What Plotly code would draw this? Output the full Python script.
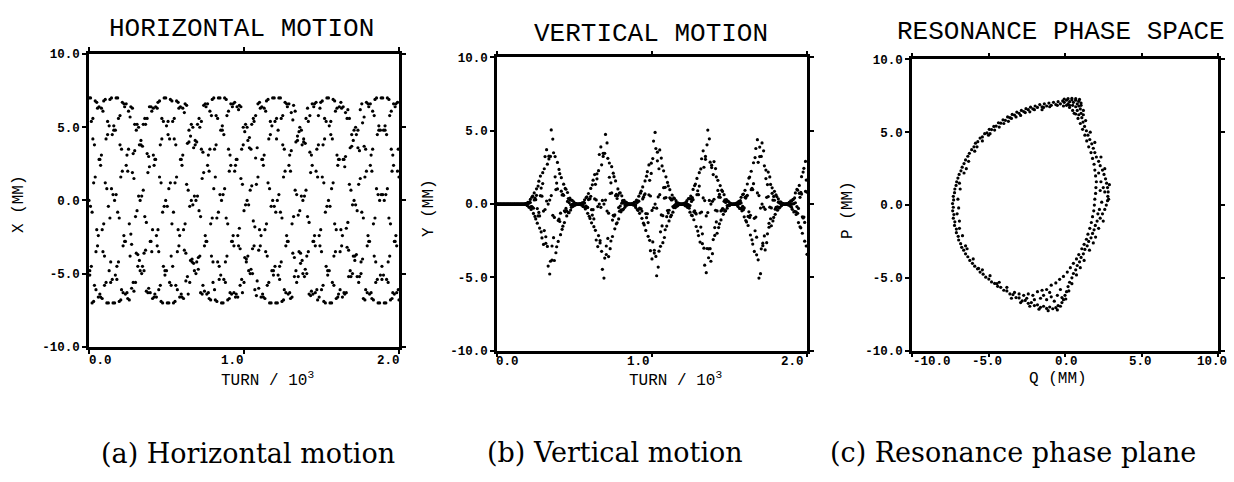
import plotly.graph_objects as go

# ---------------- data ----------------
# sampled turn numbers (shared by panels a and b)
TURN = [
    0, 5, 10, 15, 20, 25, 30, 35, 40, 45, 50, 55, 60, 65, 70, 75, 80, 85, 90, 95,
    100, 105, 110, 115, 120, 125, 130, 135, 140, 145, 150, 155, 160, 165, 170, 175, 180, 185, 190, 195,
    200, 205, 210, 215, 220, 225, 230, 235, 240, 245, 250, 255, 260, 265, 270, 275, 280, 285, 290, 295,
    300, 305, 310, 315, 320, 325, 330, 335, 340, 345, 350, 355, 360, 365, 370, 375, 380, 385, 390, 395,
    400, 405, 410, 415, 420, 425, 430, 435, 440, 445, 450, 455, 460, 465, 470, 475, 480, 485, 490, 495,
    500, 505, 510, 515, 520, 525, 530, 535, 540, 545, 550, 555, 560, 565, 570, 575, 580, 585, 590, 595,
    600, 605, 610, 615, 620, 625, 630, 635, 640, 645, 650, 655, 660, 665, 670, 675, 680, 685, 690, 695,
    700, 705, 710, 715, 720, 725, 730, 735, 740, 745, 750, 755, 760, 765, 770, 775, 780, 785, 790, 795,
    800, 805, 810, 815, 820, 825, 830, 835, 840, 845, 850, 855, 860, 865, 870, 875, 880, 885, 890, 895,
    900, 905, 910, 915, 920, 925, 930, 935, 940, 945, 950, 955, 960, 965, 970, 975, 980, 985, 990, 995,
    1000, 1005, 1010, 1015, 1020, 1025, 1030, 1035, 1040, 1045, 1050, 1055, 1060, 1065, 1070, 1075, 1080, 1085, 1090, 1095,
    1100, 1105, 1110, 1115, 1120, 1125, 1130, 1135, 1140, 1145, 1150, 1155, 1160, 1165, 1170, 1175, 1180, 1185, 1190, 1195,
    1200, 1205, 1210, 1215, 1220, 1225, 1230, 1235, 1240, 1245, 1250, 1255, 1260, 1265, 1270, 1275, 1280, 1285, 1290, 1295,
    1300, 1305, 1310, 1315, 1320, 1325, 1330, 1335, 1340, 1345, 1350, 1355, 1360, 1365, 1370, 1375, 1380, 1385, 1390, 1395,
    1400, 1405, 1410, 1415, 1420, 1425, 1430, 1435, 1440, 1445, 1450, 1455, 1460, 1465, 1470, 1475, 1480, 1485, 1490, 1495,
    1500, 1505, 1510, 1515, 1520, 1525, 1530, 1535, 1540, 1545, 1550, 1555, 1560, 1565, 1570, 1575, 1580, 1585, 1590, 1595,
    1600, 1605, 1610, 1615, 1620, 1625, 1630, 1635, 1640, 1645, 1650, 1655, 1660, 1665, 1670, 1675, 1680, 1685, 1690, 1695,
    1700, 1705, 1710, 1715, 1720, 1725, 1730, 1735, 1740, 1745, 1750, 1755, 1760, 1765, 1770, 1775, 1780, 1785, 1790, 1795,
    1800, 1805, 1810, 1815, 1820, 1825, 1830, 1835, 1840, 1845, 1850, 1855, 1860, 1865, 1870, 1875, 1880, 1885, 1890, 1895,
    1900, 1905, 1910, 1915, 1920, 1925, 1930, 1935, 1940, 1945, 1950, 1955, 1960, 1965, 1970, 1975, 1980, 1985, 1990, 1995,
    2000,
]

# horizontal position X (mm), two interleaved phase samples per plotted turn
X_MM = [
    7.0, -4.8, -0.4, 5.4, -7.0, 4.2, 1.2, -5.8, 6.8, -3.5, -2.0, 6.3, -6.6, 2.8, 2.8, -6.6, 6.3, -2.0, -3.5, 6.8, -5.8, 1.2, 4.2, -7.0, 5.4, -0.4, -4.8,
    6.9, -5.6, 0.8, 4.5, -7.0, 5.1, 0.0, -5.1, 7.0, -4.5, -0.8, 5.6, -6.9, 3.8, 1.6, -6.1, 6.7, -3.1, -2.4, 6.4, -6.4, 2.4, 3.1, -6.7, 6.1, -1.6, -3.8,
    6.4, -6.0, 1.9, 3.2, -6.2, 5.2, -1.1, -3.6, 5.2, -4.5, 0.3, 3.8, -4.8, 3.8, 0.3, -4.5, 5.2, -3.6, -1.1, 5.2, -6.2, 3.2, 1.9, -6.0, 6.4, -2.8, -2.8,
    6.1, -6.7, 3.1, 2.4, -6.4, 6.4, -2.4, -3.1, 6.7, -6.1, 1.6, 3.8, -6.9, 5.6, -0.8, -4.5, 7.0, -5.1, 0.0, 5.1, -7.0, 4.5, 0.8, -5.6, 6.9, -3.8, -1.6,
    5.4, -7.0, 4.2, 1.2, -5.8, 6.8, -3.5, -2.0, 6.3, -6.6, 2.8, 2.8, -6.6, 6.3, -2.0, -3.4, 6.6, -5.5, 1.1, 3.9, -6.4, 4.8, -0.4, -4.1, 5.2, -4.0, -0.3,
    3.6, -4.8, 4.1, 0.0, -4.2, 5.2, -3.9, -0.7, 5.0, -6.3, 3.5, 1.5, -5.8, 6.5, -3.1, -2.4, 6.4, -6.4, 2.4, 3.1, -6.7, 6.1, -1.6, -3.8, 6.9, -5.6, 0.8,
    3.5, -6.8, 5.8, -1.2, -4.2, 7.0, -5.4, 0.4, 4.8, -7.0, 4.8, 0.4, -5.4, 7.0, -4.2, -1.2, 5.8, -6.8, 3.5, 2.0, -6.3, 6.6, -2.8, -2.8, 6.6, -6.3, 2.0,
    2.4, -6.4, 6.4, -2.4, -3.1, 6.5, -5.8, 1.5, 3.5, -6.3, 5.0, -0.7, -3.9, 5.2, -4.2, 0.0, 4.1, -4.8, 3.6, 0.7, -4.7, 5.2, -3.3, -1.4, 5.4, -6.1, 2.9,
    1.1, -5.5, 6.6, -3.4, -2.0, 6.3, -6.6, 2.8, 2.8, -6.6, 6.3, -2.0, -3.5, 6.8, -5.8, 1.2, 4.2, -7.0, 5.4, -0.4, -4.8, 7.0, -4.8, -0.4, 5.4, -7.0, 4.2,
    0.0, -5.1, 7.0, -4.5, -0.8, 5.6, -6.9, 3.8, 1.6, -6.1, 6.7, -3.1, -2.4, 6.4, -6.4, 2.4, 3.1, -6.7, 6.0, -1.6, -3.6, 6.5, -5.2, 0.7, 4.0, -5.6, 4.4,
    -1.0, -3.5, 5.0, -4.3, 0.3, 3.8, -5.0, 4.0, 0.3, -4.7, 5.6, -3.8, -1.1, 5.4, -6.4, 3.3, 1.9, -6.2, 6.6, -2.8, -2.8, 6.6, -6.3, 2.0, 3.5, -6.8, 5.8,
    -2.4, -3.1, 6.7, -6.1, 1.6, 3.8, -6.9, 5.6, -0.8, -4.5, 7.0, -5.1, 0.0, 5.1, -7.0, 4.5, 0.8, -5.6, 6.9, -3.8, -1.6, 6.1, -6.7, 3.1, 2.4, -6.4, 6.4,
    -3.5, -2.0, 6.3, -6.6, 2.8, 2.8, -6.4, 6.0, -1.9, -3.2, 6.2, -5.2, 1.1, 3.6, -5.2, 4.5, -0.3, -3.8, 4.8, -3.8, -0.3, 4.5, -5.2, 3.6, 1.1, -5.2, 6.2,
    -4.2, -0.8, 5.3, -6.7, 3.7, 1.6, -6.1, 6.7, -3.1, -2.4, 6.4, -6.4, 2.4, 3.1, -6.7, 6.1, -1.6, -3.8, 6.9, -5.6, 0.8, 4.5, -7.0, 5.1, 0.0, -5.1, 7.0,
    -5.4, 0.4, 4.8, -7.0, 4.8, 0.4, -5.4, 7.0, -4.2, -1.2, 5.8, -6.8, 3.5, 2.0, -6.3, 6.6, -2.8, -2.8, 6.6, -6.3, 2.0, 3.5, -6.8,
]
X2_MM = [
    0.0, -5.1, 7.0, -4.5, -0.8, 5.6, -6.9, 3.8, 1.6, -6.1, 6.7, -3.1, -2.4, 6.4, -6.4, 2.4, 3.1, -6.7, 6.1, -1.6, -3.8, 6.9, -5.6, 0.8, 4.5, -7.0, 5.1,
    -1.2, -4.2, 7.0, -5.4, 0.4, 4.8, -7.0, 4.8, 0.4, -5.4, 7.0, -4.2, -1.2, 5.8, -6.8, 3.5, 2.0, -6.3, 6.6, -2.8, -2.8, 6.6, -6.3, 2.0, 3.5, -6.8, 5.7,
    -2.3, -3.0, 6.3, -5.6, 1.5, 3.4, -5.6, 4.8, -0.7, -3.7, 5.0, -4.1, 0.0, 4.1, -5.0, 3.7, 0.7, -4.8, 5.6, -3.4, -1.5, 5.6, -6.3, 3.0, 2.3, -6.3, 6.4,
    -3.5, -2.0, 6.3, -6.6, 2.8, 2.8, -6.6, 6.3, -2.0, -3.5, 6.8, -5.8, 1.2, 4.2, -7.0, 5.4, -0.4, -4.8, 7.0, -4.8, -0.4, 5.4, -7.0, 4.2, 1.2, -5.8, 6.8,
    -4.5, -0.8, 5.6, -6.9, 3.8, 1.6, -6.1, 6.7, -3.1, -2.4, 6.4, -6.4, 2.4, 3.1, -6.7, 6.0, -1.6, -3.6, 6.5, -5.2, 0.7, 4.0, -5.6, 4.4, 0.0, -4.2, 5.0,
    -4.3, 0.3, 3.8, -5.0, 4.0, 0.3, -4.7, 5.6, -3.8, -1.1, 5.4, -6.4, 3.3, 1.9, -6.2, 6.6, -2.8, -2.8, 6.6, -6.3, 2.0, 3.5, -6.8, 5.8, -1.2, -4.2, 7.0,
    -6.1, 1.6, 3.8, -6.9, 5.6, -0.8, -4.5, 7.0, -5.1, 0.0, 5.1, -7.0, 4.5, 0.8, -5.6, 6.9, -3.8, -1.6, 6.1, -6.7, 3.1, 2.4, -6.4, 6.4, -2.4, -3.1, 6.7,
    -6.6, 2.8, 2.8, -6.6, 6.2, -1.9, -3.3, 6.4, -5.4, 1.1, 3.8, -5.6, 4.7, -0.3, -4.0, 5.0, -3.8, -0.3, 4.3, -5.0, 3.5, 1.0, -5.0, 5.6, -3.1, -1.8, 5.8,
    -6.5, 3.6, 1.6, -6.0, 6.7, -3.1, -2.4, 6.4, -6.4, 2.4, 3.1, -6.7, 6.1, -1.6, -3.8, 6.9, -5.6, 0.8, 4.5, -7.0, 5.1, 0.0, -5.1, 7.0, -4.5, -0.8, 5.6,
    -7.0, 4.8, 0.4, -5.4, 7.0, -4.2, -1.2, 5.8, -6.8, 3.5, 2.0, -6.3, 6.6, -2.8, -2.8, 6.6, -6.3, 2.0, 3.4, -6.6, 5.5, -1.1, -3.9, 6.1, -4.8, 0.4, 4.1,
    -5.2, 4.7, -0.7, -3.6, 4.8, -4.1, 0.0, 4.2, -5.2, 3.9, 0.7, -5.0, 6.3, -3.5, -1.5, 5.8, -6.5, 3.1, 2.4, -6.4, 6.4, -2.4, -3.1, 6.7, -6.1, 1.6, 3.8,
    -6.6, 6.3, -2.0, -3.5, 6.8, -5.8, 1.2, 4.2, -7.0, 5.4, -0.4, -4.8, 7.0, -4.8, -0.4, 5.4, -7.0, 4.2, 1.2, -5.8, 6.8, -3.5, -2.0, 6.3, -6.6, 2.8, 2.8,
    -6.1, 6.7, -3.1, -2.4, 6.4, -6.3, 2.3, 3.0, -6.3, 5.6, -1.5, -3.4, 5.6, -4.8, 0.7, 3.7, -5.0, 4.1, 0.0, -4.1, 5.0, -3.7, -0.7, 4.8, -5.6, 3.4, 1.5,
    -5.0, 6.6, -4.0, -1.2, 5.7, -6.8, 3.5, 2.0, -6.3, 6.6, -2.8, -2.8, 6.6, -6.3, 2.0, 3.5, -6.8, 5.8, -1.2, -4.2, 7.0, -5.4, 0.4, 4.8, -7.0, 4.8, 0.4,
    -4.5, 7.0, -5.1, 0.0, 5.1, -7.0, 4.5, 0.8, -5.6, 6.9, -3.8, -1.6, 6.1, -6.7, 3.1, 2.4, -6.4, 6.4, -2.4, -3.1, 6.7, -6.1, 1.6,
]

# vertical position Y (mm), two interleaved phase samples per plotted turn
Y_MM = [
    0, 0, 0, 0, 0, 0, 0, 0, 0, 0, 0, 0, 0, 0, 0, 0, 0, 0, 0, 0, 0, 0, 0, 0, 0, 0, 0,
    0, 0, 0, 0, 0, 0, 0, 0, 0.00, -0.01, 0.00, 0.05, -0.10, 0.08, 0.05, -0.23, 0.32, -0.18, -0.17, 0.54, -0.64, 0.28, 0.41, -1.01, 1.04, -0.31, -0.81,
    1.56, -1.64, 0.57, 1.09, -2.31, 2.14, -0.48, -1.81, 3.24, -2.68, 0.21, 2.72, -4.23, 3.08, 0.27, -3.90, 5.06, -2.86, -0.77, 3.50, -3.85, 1.86, 0.99, -2.91, 2.84, -1.12, -1.03,
    2.07, -2.09, 0.88, 0.62, -1.51, 1.36, -0.46, -0.53, 1.01, -0.81, 0.18, 0.38, -0.59, 0.40, -0.05, -0.22, 0.26, -0.15, 0.00, 0.07, -0.07, 0.02, 0.00, 0.00, 0.00, 0.00, 0.00,
    0.03, -0.07, 0.07, 0.03, -0.19, 0.29, -0.19, -0.13, 0.50, -0.63, 0.31, 0.36, -0.98, 1.07, -0.38, -0.75, 1.63, -1.54, 0.35, 1.35, -2.45, 2.06, -0.17, -2.15, 3.38, -2.49, -0.22,
    2.68, -4.45, 3.46, 0.00, -3.68, 4.75, -2.86, -0.48, 3.12, -3.58, 1.83, 0.72, -2.52, 2.55, -1.09, -0.77, 1.87, -1.69, 0.57, 0.66, -1.28, 1.03, -0.24, -0.49, 0.77, -0.53, 0.06,
    0.23, -0.36, 0.25, -0.04, -0.10, 0.12, -0.06, 0.00, 0.01, 0.00, 0.00, 0.00, -0.01, 0.04, -0.05, -0.02, 0.14, -0.23, 0.15, 0.11, -0.43, 0.54, -0.28, -0.32, 0.88, -0.97, 0.35,
    0.47, -1.42, 1.58, -0.65, -0.93, 2.21, -2.20, 0.63, 1.62, -3.18, 2.79, -0.43, -2.58, 4.30, -3.34, 0.00, 3.79, -4.89, 2.95, 0.49, -3.21, 3.69, -1.89, -0.74, 2.60, -2.63, 1.12,
    0.40, -1.75, 1.86, -0.86, -0.44, 1.24, -1.15, 0.43, 0.37, -0.76, 0.62, -0.17, -0.24, 0.38, -0.25, 0.04, 0.10, -0.12, 0.06, 0.00, -0.01, 0.00, 0.00, 0.00, 0.01, -0.04, 0.04,
    0.00, -0.12, 0.23, -0.19, -0.04, 0.37, -0.55, 0.36, 0.18, -0.79, 1.00, -0.53, -0.46, 1.37, -1.53, 0.64, 0.91, -2.15, 2.14, -0.61, -1.57, 3.09, -2.70, 0.42, 2.51, -4.17, 3.25,
    -0.81, -3.03, 5.05, -3.66, 0.25, 2.86, -3.90, 2.49, 0.19, -2.42, 2.90, -1.60, -0.42, 1.86, -1.99, 0.93, 0.48, -1.35, 1.26, -0.47, -0.42, 0.86, -0.70, 0.19, 0.28, -0.45, 0.31,
    -0.10, -0.10, 0.16, -0.10, 0.02, 0.02, -0.02, 0.00, 0.00, 0.00, 0.02, -0.03, 0.00, 0.08, -0.17, 0.15, 0.03, -0.30, 0.46, -0.30, -0.15, 0.68, -0.87, 0.46, 0.41, -1.22, 1.37,
    -0.84, -0.53, 1.84, -2.11, 0.98, 1.07, -2.73, 2.82, -0.97, -1.82, 3.79, -3.46, 0.76, 2.85, -5.05, 3.89, -0.27, -3.05, 4.17, -2.67, -0.21, 2.61, -3.13, 1.74, 0.46, -2.03, 2.18,
    -1.31, -0.21, 1.34, -1.48, 0.73, 0.27, -0.91, 0.87, -0.35, -0.23, 0.51, -0.42, 0.13, 0.13, -0.22, 0.15, -0.03, -0.04, 0.04, -0.01, 0.00, 0.00, 0.00, 0.01, 0.00, -0.05, 0.11,
    -0.12, 0.01, 0.20, -0.36, 0.31, 0.03, -0.50, 0.76, -0.53, -0.17, 0.95, -1.26, 0.73, 0.46, -1.62, 1.87, -0.87, -0.95, 2.44, -2.53, 0.87, 1.64, -3.43,
]
Y2_MM = [
    0, 0, 0, 0, 0, 0, 0, 0, 0, 0, 0, 0, 0, 0, 0, 0, 0, 0, 0, 0, 0, 0, 0, 0, 0, 0, 0,
    0, 0, 0, 0, 0, 0, 0, 0, 0.00, -0.01, 0.04, -0.04, -0.02, 0.12, -0.20, 0.13, 0.10, -0.37, 0.47, -0.24, -0.28, 0.76, -0.84, 0.30, 0.60, -1.30, 1.23,
    -0.57, -0.81, 1.91, -1.90, 0.54, 1.40, -2.75, 2.41, -0.37, -2.23, 3.71, -2.89, 0.00, 3.27, -4.77, 3.25, 0.58, -3.82, 4.43, -2.29, -0.91, 3.24, -3.32, 1.43, 1.03, -2.55, 2.36,
    -1.19, -0.62, 1.80, -1.72, 0.66, 0.60, -1.26, 1.07, -0.30, -0.46, 0.79, -0.58, 0.10, 0.30, -0.41, 0.26, -0.02, -0.14, 0.15, -0.07, 0.00, 0.03, -0.02, 0.00, 0.00, 0.00, 0.02,
    -0.03, -0.01, 0.09, -0.16, 0.12, 0.07, -0.33, 0.44, -0.25, -0.23, 0.72, -0.83, 0.36, 0.53, -1.28, 1.31, -0.38, -1.01, 2.01, -1.79, 0.28, 1.72, -2.90, 2.28, 0.00, -2.65, 3.90,
    -3.22, 0.25, 3.25, -5.05, 3.46, 0.27, -3.44, 4.17, -2.34, -0.62, 2.80, -3.04, 1.45, 0.76, -2.21, 2.11, -0.82, -0.74, 1.58, -1.35, 0.38, 0.59, -1.01, 0.75, -0.13, -0.40, 0.56,
    -0.40, 0.09, 0.16, -0.22, 0.13, -0.01, -0.05, 0.04, -0.01, 0.00, 0.00, 0.00, 0.01, 0.00, -0.06, 0.12, -0.09, -0.05, 0.27, -0.37, 0.21, 0.20, -0.63, 0.74, -0.32, -0.48, 1.17,
    -1.30, 0.62, 0.69, -1.80, 1.90, -0.66, -1.26, 2.67, -2.47, 0.55, 2.09, -3.74, 3.10, -0.25, -3.15, 4.89, -3.57, -0.28, 3.54, -4.30, 2.41, 0.64, -2.88, 3.14, -1.49, -0.79, 2.27,
    -2.28, 1.14, 0.44, -1.50, 1.48, -0.61, -0.42, 0.98, -0.86, 0.28, 0.30, -0.55, 0.42, -0.09, -0.17, 0.23, -0.14, 0.01, 0.05, -0.04, 0.01, 0.00, 0.00, 0.00, -0.01, 0.00, 0.06,
    -0.12, 0.11, 0.01, -0.23, 0.38, -0.28, -0.10, 0.55, -0.76, 0.45, 0.30, -1.07, 1.26, -0.60, -0.67, 1.75, -1.84, 0.64, 1.23, -2.59, 2.40, -0.54, -2.03, 3.63, -3.01, 0.24, 3.05,
    -4.68, 4.04, -0.58, -3.05, 4.45, -3.04, 0.00, 2.65, -3.38, 2.01, 0.33, -2.14, 2.42, -1.22, -0.47, 1.62, -1.60, 0.66, 0.46, -1.08, 0.95, -0.31, -0.35, 0.64, -0.49, 0.11, 0.20,
    -0.28, 0.20, -0.05, -0.06, 0.07, -0.03, 0.00, 0.00, 0.00, 0.00, 0.00, -0.03, 0.07, -0.08, -0.01, 0.18, -0.30, 0.23, 0.08, -0.46, 0.65, -0.39, -0.26, 0.94, -1.12, 0.54, 0.60,
    -1.46, 1.77, -0.91, -0.77, 2.24, -2.44, 0.99, 1.39, -3.23, 3.17, -0.89, -2.26, 4.39, -3.80, 0.58, 3.24, -4.75, 3.25, 0.00, -2.84, 3.63, -2.17, -0.36, 2.32, -2.63, 1.33, 0.51,
    -1.58, 1.85, -1.00, -0.26, 1.11, -1.15, 0.52, 0.26, -0.70, 0.63, -0.22, -0.19, 0.35, -0.27, 0.06, 0.08, -0.11, 0.06, -0.01, -0.01, 0.00, 0.00, 0.00, 0.01, -0.04, 0.05, 0.01,
    -0.10, 0.22, -0.21, 0.00, 0.33, -0.54, 0.42, 0.09, -0.71, 1.00, -0.63, -0.30, 1.27, -1.55, 0.80, 0.68, -1.99, 2.18, -0.89, -1.25, 2.91, -2.86, 0.81,
]

# resonance phase space points (Q mm, P mm)
RES_QP = [
    (1.05, 7.0), (0.9, 7.12), (0.8, 6.95), (0.7, 7.2), (0.55, 7.05), (0.45, 7.22), (0.3, 7.1), (0.2, 6.95), (0.1, 7.2),
    (-0.05, 7.05), (-0.15, 7.15), (-0.3, 6.95), (-0.45, 7.1), (-0.6, 6.9), (-0.75, 7.05), (-0.9, 6.85), (-1.05, 7.0),
    (-1.2, 6.8), (-1.35, 6.95), (-1.5, 6.75), (-1.65, 6.9), (-1.8, 6.7), (-1.95, 6.8), (-2.1, 6.6), (-2.25, 6.72),
    (-2.4, 6.55), (-2.55, 6.62), (-2.7, 6.42), (-2.85, 6.5), (-3.0, 6.3), (-3.15, 6.38), (-3.3, 6.18), (-3.45, 6.22),
    (-3.6, 6.0), (-3.75, 6.05), (-3.9, 5.82), (-4.05, 5.85), (-4.2, 5.62), (-4.35, 5.65), (-4.5, 5.42), (-4.65, 5.4),
    (-4.8, 5.18), (-4.95, 5.2), (-5.1, 4.95), (-5.25, 4.9), (-5.4, 4.68), (-5.55, 4.6), (-5.7, 4.35), (-5.85, 4.25),
    (-5.95, 4.0), (-6.1, 3.8), (-6.25, 3.55), (-6.35, 3.35), (-6.5, 3.1), (-6.6, 2.85), (-6.72, 2.6), (-6.8, 2.35),
    (-6.92, 2.1), (-7.0, 1.85), (-7.08, 1.6), (-7.12, 1.35), (-7.2, 1.1), (-7.22, 0.85), (-7.3, 0.6), (-7.28, 0.35),
    (-7.35, 0.1), (-7.3, -0.15), (-7.34, -0.4), (-7.26, -0.65), (-7.3, -0.9), (-7.2, -1.15), (-7.22, -1.4), (-7.1, -1.65),
    (-7.1, -1.9), (-6.98, -2.15), (-6.95, -2.4), (-6.82, -2.65), (-6.75, -2.9), (-6.62, -3.1), (-6.5, -3.35), (-6.35, -3.55),
    (-6.22, -3.8), (-6.05, -4.0), (-5.9, -4.2), (-5.72, -4.38), (-5.55, -4.6), (-5.35, -4.75), (-5.18, -4.95), (-4.98, -5.08),
    (-4.8, -5.28), (-4.6, -5.38), (-4.4, -5.58), (-4.2, -5.65), (-4.0, -5.85), (-3.8, -5.9), (-3.6, -6.1), (-3.4, -6.15),
    (-3.2, -6.35), (-3.0, -6.38), (-2.8, -6.58), (-2.6, -6.55), (-2.4, -6.75), (-2.2, -6.7), (-2.0, -6.9), (-1.8, -6.85),
    (-1.6, -7.02), (-1.4, -6.95), (-1.2, -7.1), (-1.0, -7.0), (-0.8, -7.12), (-0.6, -7.05), (-0.45, -6.9), (-0.3, -6.95),
    (-0.2, -6.7), (-0.1, -6.5), (0.0, -6.2), (0.1, -5.95), (0.2, -5.6), (0.3, -5.3), (0.45, -5.0), (0.55, -4.7),
    (0.7, -4.45), (0.8, -4.15), (0.95, -3.9), (1.05, -3.6), (1.2, -3.35), (1.3, -3.05), (1.45, -2.8), (1.55, -2.5),
    (1.7, -2.25), (1.8, -1.95), (1.9, -1.7), (1.98, -1.4),
    (2.1, -1.1), (2.3, -0.9), (2.45, -0.6), (2.6, -0.3), (2.7, 0.0), (2.78, 0.3), (2.8, 0.6), (2.82, 0.9), (2.78, 1.2),
    (2.72, 1.5), (2.65, 1.8), (2.55, 2.1), (2.45, 2.4), (2.3, 2.7), (2.2, 3.0), (2.05, 3.3), (1.95, 3.6), (1.85, 3.9),
    (1.75, 4.2), (1.62, 4.5), (1.5, 4.8), (1.4, 5.1), (1.28, 5.4), (1.18, 5.7), (1.1, 6.0), (1.05, 6.3), (1.0, 6.6), (1.05, 6.85),
    (1.5, -2.0), (1.62, -1.6), (1.72, -1.2), (1.8, -0.8), (1.88, -0.4), (1.92, 0.0), (1.95, 0.4), (2.0, 0.8), (2.02, 1.2),
    (2.05, 1.6), (2.0, 2.0), (1.95, 2.4), (1.9, 2.8), (1.8, 3.2), (1.7, 3.6), (1.55, 4.0), (1.42, 4.4), (1.3, 4.8),
    (1.15, 5.2), (1.0, 5.6), (0.85, 5.95), (0.7, 6.25), (0.5, 6.5), (0.3, 6.7),
    (2.3, 1.0), (2.4, 0.2), (2.25, -0.3), (2.35, 1.6), (2.2, 2.2), (2.5, 1.2), (2.15, -0.6), (2.6, 0.9),
    (-3.0, -6.1), (-2.7, -6.2), (-2.4, -6.1), (-2.1, -6.2), (-1.8, -5.95), (-1.5, -5.85), (-1.2, -5.8), (-0.9, -5.5),
    (-0.6, -5.35), (-0.35, -5.1), (-0.1, -4.9), (0.15, -4.6), (0.35, -4.3), (0.55, -4.0), (0.75, -3.7), (0.9, -3.4),
    (1.1, -3.0), (1.25, -2.7), (1.4, -2.35),
    (-2.5, -6.4), (-2.0, -6.5), (-1.6, -6.4), (-1.2, -6.5), (-0.9, -6.3), (-1.0, -6.0), (-0.5, -6.2), (-0.3, -5.8),
    (-0.7, -6.6), (-1.4, -6.2), (-0.2, -6.35),
    (0.9, 6.8), (0.7, 6.75), (0.5, 6.85), (0.3, 6.85), (0.1, 6.85), (-0.1, 6.8), (0.8, 6.5), (0.9, 6.2), (0.6, 6.3),
    (1.2, 6.5), (0.95, 7.25), (0.7, 7.3), (0.45, 7.32), (0.2, 7.3), (-0.05, 7.28),
    (-7.0, 0.4), (-7.05, -0.6), (-6.9, 1.5), (-6.9, -1.6), (-6.45, 2.5), (-6.5, -2.8), (-5.75, 4.0), (-5.65, -4.35),
    (-4.6, 5.15), (-4.45, -5.4), (-3.5, 5.95), (-3.3, -6.0),
    (-2.0, 6.55), (-2.6, 6.35), (-1.4, 6.7), (-3.2, 6.05), (-4.0, 5.6), (-5.0, 4.8),
    (-0.5, 6.85), (-1.0, 6.75), (-1.5, 6.55), (-2.3, 6.4), (-2.9, 6.15), (-3.7, 5.75), (-4.3, 5.35), (-4.9, 4.9),
    (-5.4, 4.4), (-5.9, 3.7), (-6.3, 3.0), (-6.6, 2.2), (-6.85, 1.1), (-6.95, -0.2), (-6.9, -1.1), (-6.7, -2.1),
    (-6.4, -3.0), (-6.0, -3.7), (-5.4, -4.45), (-4.9, -4.85), (-4.3, -5.3), (-3.8, -5.65), (-3.5, -6.4), (-2.9, -6.7),
    (-2.3, -6.95), (-1.7, -7.15), (-1.1, -7.25), (-0.5, -7.2), (0.05, -6.45), (0.25, -5.9), (0.45, -5.4), (0.75, -4.8),
    (1.0, -4.3), (1.25, -3.8), (1.6, -3.1), (1.85, -2.6), (2.0, -2.2), (2.2, -1.6), (2.5, -1.1), (2.85, 0.4),
    (2.9, 1.4), (2.6, 2.5), (2.35, 3.3), (1.95, 4.3), (1.65, 5.0), (1.35, 5.8), (1.2, 6.2),
]

Y_TICKS = [-10, -5, 0, 5, 10]
Y_TICK_TEXT = ["-10.0", "-5.0", "0.0", "5.0", "10.0"]
TURN_TICKS = [0.0, 1.0, 2.0]
TURN_TICK_TEXT = ["0.0", "1.0", "2.0"]
Q_TICKS = [-10, -5, 0, 5, 10]
Q_TICK_TEXT = ["-10.0", "-5.0", "0.0", "5.0", "10.0"]

assert len(TURN) == len(X_MM) == len(Y_MM) == len(X2_MM) == len(Y2_MM)

# ---------------- figure ----------------
W, H = 1234, 482
MONO = "Liberation Mono"
SERIF = "DejaVu Serif"


def fx(p):
    return p / W


def fy(p):
    return 1 - p / H


turn_k = [t / 1000 for t in TURN]
Q_C = [q for q, _ in RES_QP]
P_C = [p for _, p in RES_QP]

mk = dict(size=3.2, color="black", line=dict(width=0))
fig = go.Figure()
for ys in (X_MM, X2_MM):
    fig.add_trace(go.Scatter(x=turn_k, y=ys, mode="markers", marker=mk, xaxis="x", yaxis="y", showlegend=False))
for ys in (Y_MM, Y2_MM):
    fig.add_trace(go.Scatter(x=turn_k, y=ys, mode="markers", marker=mk, xaxis="x2", yaxis="y2", showlegend=False))
fig.add_trace(go.Scatter(x=Q_C, y=P_C, mode="markers", marker=mk, xaxis="x3", yaxis="y3", showlegend=False))

tickfont = dict(family=MONO, size=12.5, color="black", weight="bold")


def xax(dom, rng, tv, anchor):
    return dict(domain=[fx(dom[0]), fx(dom[1])], range=rng, anchor=anchor, showline=True, linewidth=2.5,
                linecolor="black", mirror="ticks", ticks="outside", ticklen=4, tickwidth=1.5, tickcolor="black",
                tickvals=tv, showticklabels=False, showgrid=False, zeroline=False, fixedrange=True)


def yax(dom, anchor):
    return dict(domain=[fy(dom[1]), fy(dom[0])], range=[-10, 10], anchor=anchor, showline=True, linewidth=2.5,
                linecolor="black", mirror="ticks", ticks="outside", ticklen=4, tickwidth=1.5, tickcolor="black",
                tickvals=Y_TICKS, ticktext=Y_TICK_TEXT, tickfont=tickfont, showgrid=False, zeroline=False,
                fixedrange=True)


fig.update_layout(
    width=W, height=H, margin=dict(l=0, r=0, t=0, b=0),
    paper_bgcolor="white", plot_bgcolor="white", showlegend=False,
    xaxis=xax((89, 399), [0, 2.0], TURN_TICKS, "y"),
    yaxis=yax((49.5, 351), "x"),
    xaxis2=xax((497, 807), [0, 2.0], TURN_TICKS, "y2"),
    yaxis2=yax((53, 355), "x2"),
    xaxis3=xax((912, 1218), [-10, 10], Q_TICKS, "y3"),
    yaxis3=yax((55, 355), "x3"),
)

ann = []


def add(text, x, y, size, family=MONO, angle=0, weight="normal"):
    ann.append(dict(text=text, x=fx(x), y=fy(y), xref="paper", yref="paper", showarrow=False,
                    xanchor="center", yanchor="middle", textangle=angle,
                    font=dict(family=family, size=size, color="black", weight=weight)))


# panel titles
add("HORIZONTAL MOTION", 241.5, 24, 26)
add("VERTICAL MOTION", 651, 29, 26)
add("RESONANCE PHASE SPACE", 1061, 27, 26)
# axis titles
add("X (MM)", 19, 204, 16, angle=-90)
add("Y (MM)", 429, 208, 16, angle=-90)
add("P (MM)", 848, 210, 16, angle=-90)
add("TURN / 10<sup>3</sup>", 267, 385, 16)
add("TURN / 10<sup>3</sup>", 675, 385, 16)
add("Q (MM)", 1058, 384, 16)
# x tick labels (placed as in the original plotter output)
for txt, x in zip(TURN_TICK_TEXT, [100, 232, 388]):
    add(txt, x, 366, 12.5, weight="bold")
for txt, x in zip(TURN_TICK_TEXT, [507, 638, 792]):
    add(txt, x, 367, 12.5, weight="bold")
for txt, x in zip(Q_TICK_TEXT, [932, 987, 1066, 1140, 1212]):
    add(txt, x, 367, 12.5, weight="bold")
# captions
add("(a) Horizontal motion", 248, 461, 27, family=SERIF)
add("(b) Vertical motion", 615, 460, 27, family=SERIF)
add("(c) Resonance phase plane", 1013, 460, 27, family=SERIF)

fig.update_layout(annotations=ann)
fig.write_html("out.html")
